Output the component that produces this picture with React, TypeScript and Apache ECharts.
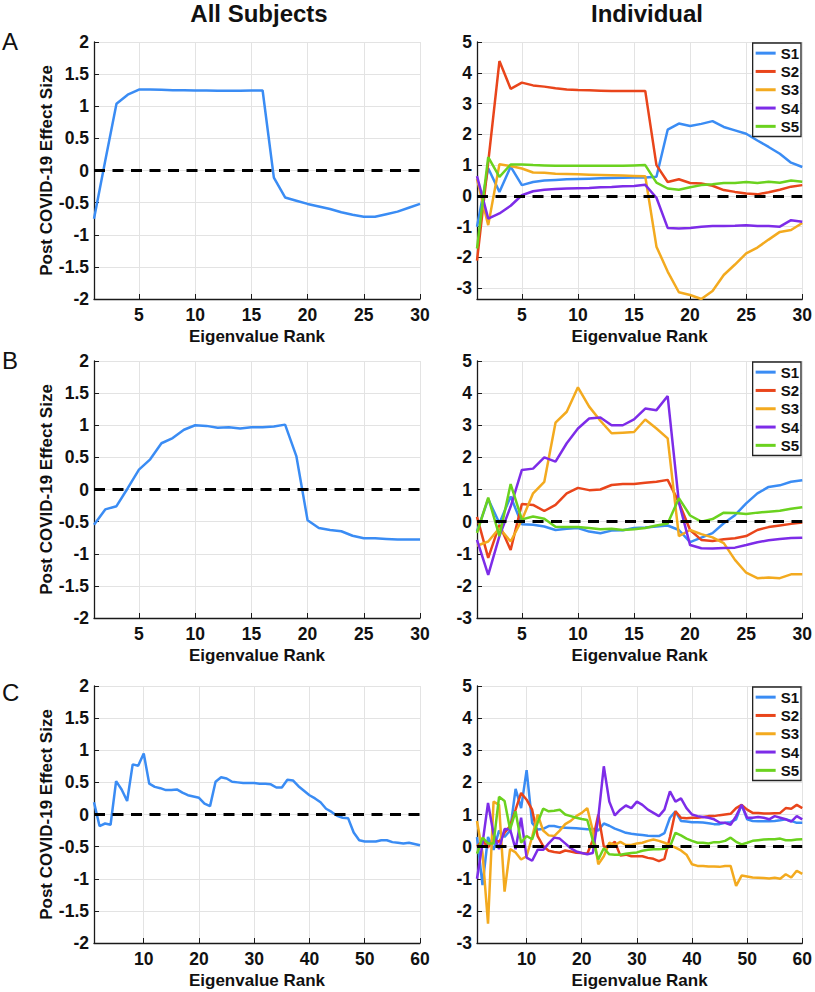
import React, { useEffect, useRef } from "react";
import * as echarts from "echarts";

const FONT = "'Liberation Sans', Arial, Helvetica, sans-serif";

// ---------- categories / ticks ----------
const ranks30 = Array.from({ length: 30 }, (_, i) => i + 1);
const ranks60 = Array.from({ length: 60 }, (_, i) => i + 1);
const xTicks30 = [5, 10, 15, 20, 25, 30];
const xTicks60 = [10, 20, 30, 40, 50, 60];
const yTicksAll = [-2, -1.5, -1, -0.5, 0, 0.5, 1, 1.5, 2];
const yTicksInd = [-3, -2, -1, 0, 1, 2, 3, 4, 5];

const subjectNames = ["S1", "S2", "S3", "S4", "S5"];
const subjectColors = ["#3a8cf4", "#e9451b", "#f3aa1f", "#7d2ce8", "#6bd21f"];
const allColor = "#3a8cf4";

// ---------- A : all subjects ----------
const allA = [-0.75, 0.15, 1.04, 1.18, 1.26, 1.26, 1.255, 1.25, 1.25, 1.245, 1.245, 1.24, 1.24, 1.24, 1.245, 1.245,
  -0.11, -0.42, -0.47, -0.52, -0.56, -0.6, -0.65, -0.69, -0.72, -0.72, -0.68, -0.64, -0.58, -0.52];
// ---------- A : individual ----------
const indA_S1 = [-1.0, 0.9, 0.13, 0.95, 0.35, 0.45, 0.5, 0.52, 0.54, 0.55, 0.56, 0.57, 0.58, 0.59, 0.6, 0.6,
  0.62, 2.15, 2.35, 2.27, 2.34, 2.43, 2.24, 2.13, 2.02, 1.8, 1.59, 1.37, 1.08, 0.94];
const indA_S2 = [-2.1, 1.1, 4.38, 3.48, 3.68, 3.59, 3.55, 3.5, 3.46, 3.44, 3.43, 3.42, 3.41, 3.41, 3.41, 3.41,
  1.0, 0.45, 0.54, 0.42, 0.4, 0.33, 0.19, 0.13, 0.08, 0.05, 0.12, 0.2, 0.3, 0.35];
const indA_S3 = [0.55, -0.95, 1.03, 0.97, 0.89, 0.76, 0.75, 0.72, 0.71, 0.7, 0.69, 0.68, 0.67, 0.66, 0.65, 0.64,
  -1.65, -2.46, -3.13, -3.22, -3.35, -3.09, -2.57, -2.23, -1.87, -1.68, -1.42, -1.17, -1.11, -0.88];
const indA_S4 = [0.64, -0.74, -0.57, -0.32, 0.02, 0.15, 0.2, 0.22, 0.24, 0.25, 0.26, 0.28, 0.29, 0.31, 0.32, 0.36,
  -0.06, -1.04, -1.06, -1.04, -1.0, -0.98, -0.98, -0.97, -0.95, -0.98, -0.98, -1.0, -0.79, -0.84];
const indA_S5 = [-1.71, 1.26, 0.62, 1.02, 1.02, 1.0, 0.99, 0.98, 0.98, 0.98, 0.98, 0.98, 0.98, 0.98, 0.99, 1.0,
  0.43, 0.24, 0.2, 0.28, 0.35, 0.38, 0.42, 0.42, 0.45, 0.42, 0.46, 0.43, 0.5, 0.46];

// ---------- B : all subjects ----------
const allB = [-0.55, -0.31, -0.26, 0.02, 0.31, 0.47, 0.72, 0.8, 0.93, 1.0, 0.99, 0.96, 0.97, 0.95, 0.97, 0.97,
  0.98, 1.01, 0.52, -0.48, -0.6, -0.63, -0.65, -0.72, -0.76, -0.76, -0.77, -0.78, -0.78, -0.78];
// ---------- B : individual ----------
const indB_S1 = [-0.3, 0.7, -0.05, 0.78, -0.08, -0.1, -0.15, -0.26, -0.22, -0.2, -0.31, -0.36, -0.28, -0.27, -0.2,
  -0.18, -0.15, -0.12, -0.26, -0.64, -0.5, -0.36, -0.05, 0.2, 0.57, 0.88, 1.08, 1.13, 1.24, 1.29];
const indB_S2 = [0.15, -1.13, -0.1, -0.88, 0.55, 0.52, 0.33, 0.52, 0.88, 1.05, 0.98, 1.0, 1.14, 1.17, 1.17, 1.21,
  1.24, 1.3, 0.6, -0.26, -0.57, -0.6, -0.55, -0.52, -0.45, -0.26, -0.17, -0.12, -0.07, -0.03];
const indB_S3 = [-0.75, -0.62, -0.2, -0.62, 0.05, 0.88, 1.24, 3.08, 3.42, 4.18, 3.58, 3.14, 2.75, 2.77, 2.79, 3.18,
  2.9, 2.59, -0.45, -0.26, -0.39, -0.49, -0.67, -1.19, -1.59, -1.76, -1.74, -1.76, -1.64, -1.64];
const indB_S4 = [-0.57, -1.66, -0.45, 0.47, 1.61, 1.65, 2.0, 1.87, 2.44, 2.9, 3.21, 3.24, 3.0, 3.0, 3.18, 3.52,
  3.47, 3.91, 0.6, -0.73, -0.83, -0.84, -0.82, -0.81, -0.73, -0.64, -0.58, -0.54, -0.51, -0.5];
const indB_S5 = [-0.35, 0.75, -0.45, 1.17, 0.07, 0.16, 0.09, -0.16, -0.17, -0.17, -0.2, -0.24, -0.22, -0.26, -0.24,
  -0.2, -0.12, -0.06, 0.73, 0.19, 0.0, 0.08, 0.28, 0.27, 0.24, 0.28, 0.31, 0.34, 0.4, 0.45];

// ---------- C : all subjects ----------
const allC = [0.19, -0.18, -0.14, -0.16, 0.52, 0.39, 0.21, 0.78, 0.76, 0.95,
  0.48, 0.43, 0.41, 0.38, 0.38, 0.39, 0.34, 0.3, 0.28, 0.26,
  0.17, 0.13, 0.51, 0.58, 0.56, 0.51, 0.5, 0.49, 0.49, 0.49,
  0.48, 0.48, 0.47, 0.42, 0.42, 0.54, 0.53, 0.44, 0.37, 0.3,
  0.25, 0.19, 0.09, 0.04, -0.02, -0.05, -0.06, -0.28, -0.4, -0.42,
  -0.42, -0.42, -0.4, -0.4, -0.43, -0.44, -0.45, -0.44, -0.46, -0.48];
// ---------- C : individual ----------
const indC_S1 = [0.3, -1.2, 0.3, -0.1, 0.5, 0.3, 0.5, 1.8, 1.2, 2.38,
  0.74, 0.53, 0.55, 0.64, 0.64, 0.6, 0.59, 0.58, 0.57, 0.56,
  0.54, 0.55, 0.5, 0.72, 0.65, 0.56, 0.5, 0.43, 0.4, 0.38,
  0.36, 0.34, 0.33, 0.33, 0.42, 0.9, 1.1, 0.8, 0.78, 0.76,
  0.76, 0.75, 0.73, 0.7, 0.7, 0.74, 0.76, 0.85, 1.3, 0.85,
  0.8, 0.79, 0.79, 0.79, 0.8, 0.82, 0.85, 0.8, 0.74, 0.74];
const indC_S2 = [0.0, 0.2, -0.03, 0.22, 0.15, 0.43, 0.64, 1.15, 1.67, 1.46,
  1.15, 0.33, 0.02, -0.13, -0.17, -0.19, -0.12, -0.15, -0.19, -0.2,
  -0.22, 0.2, 1.0, 0.0, 0.0, 0.15, -0.28, -0.25, -0.3, -0.3,
  -0.3, -0.35, -0.38, -0.45, -0.38, 0.3, 1.1, 0.9, 0.88, 0.9,
  0.9, 0.92, 0.95, 0.95, 0.98, 1.0, 1.02, 1.2, 1.3, 1.15,
  1.05, 1.05, 1.03, 1.03, 1.04, 1.05, 1.2, 1.18, 1.3, 1.2];
const indC_S3 = [0.8, -0.2, -2.4, 1.4, 1.3, -1.4, -0.08, -0.18, -0.4, -0.3,
  0.3, 1.0, 0.5, 0.35, 0.33, 0.5, 0.7, 0.8, 0.95, 1.05,
  1.2, 0.5, -0.55, -0.3, 0.12, 0.05, 0.15, 0.05, 0.05, 0.1,
  0.12, 0.18, 0.22, 0.18, 0.12, 0.05, -0.03, -0.12, -0.25, -0.55,
  -0.6, -0.6, -0.62, -0.62, -0.63, -0.6, -0.6, -1.22, -0.9, -0.93,
  -0.96, -0.97, -0.98, -0.99, -0.97, -1.0, -0.86, -0.96, -0.75, -0.85];
const indC_S4 = [-1.0, 0.1, 1.36, 0.4, -0.08, 0.55, 0.54, -0.08, 0.9, -0.34,
  -0.44, -0.1, -0.1, 0.1, 0.28, 0.25, 0.1, -0.05, -0.15, -0.2,
  -0.24, -0.2, 0.9, 2.5, 1.4, 0.97, 1.15, 1.28, 1.2, 1.4,
  1.3, 1.15, 1.05, 0.95, 1.15, 1.72, 1.4, 1.5, 1.2, 1.0,
  0.95, 0.92, 0.9, 0.85, 0.75, 0.74, 0.68, 0.95, 1.3, 0.9,
  0.9, 0.92, 0.9, 0.85, 0.95, 0.9, 0.85, 0.78, 0.95, 0.85];
const indC_S5 = [-0.22, 0.28, 0.1, 0.1, 1.55, 1.42, 0.54, 1.1, 0.12, 0.33,
  0.23, 0.75, 1.18, 1.1, 1.12, 1.15, 1.0, 0.95, 0.9, 0.86,
  0.83, 0.2, -0.4, -0.05, -0.24, -0.25, -0.25, -0.22, -0.2, -0.18,
  -0.13, -0.1, -0.08, -0.08, -0.07, 0.0, 0.43, 0.35, 0.25, 0.18,
  0.12, 0.12, 0.1, 0.14, 0.14, 0.18, 0.28, 0.15, 0.07, 0.12,
  0.18, 0.2, 0.22, 0.23, 0.23, 0.25, 0.2, 0.2, 0.22, 0.23];

const rowTops = [42, 361, 686];
const gridH = 257;

type Panel = {
  row: number;
  col: number;
  ranks: number[];
  xTicks: number[];
  yMin: number;
  yMax: number;
  yTicks: number[];
  lines: { name: string; data: number[]; color: string }[];
};

const indLines = (arrs: number[][]) =>
  arrs.map((d, k) => ({ name: subjectNames[k], data: d, color: subjectColors[k] }));

const panels: Panel[] = [
  { row: 0, col: 0, ranks: ranks30, xTicks: xTicks30, yMin: -2, yMax: 2, yTicks: yTicksAll,
    lines: [{ name: "All", data: allA, color: allColor }] },
  { row: 0, col: 1, ranks: ranks30, xTicks: xTicks30, yMin: -3.35, yMax: 5, yTicks: yTicksInd,
    lines: indLines([indA_S1, indA_S2, indA_S3, indA_S4, indA_S5]) },
  { row: 1, col: 0, ranks: ranks30, xTicks: xTicks30, yMin: -2, yMax: 2, yTicks: yTicksAll,
    lines: [{ name: "All", data: allB, color: allColor }] },
  { row: 1, col: 1, ranks: ranks30, xTicks: xTicks30, yMin: -3, yMax: 5, yTicks: yTicksInd,
    lines: indLines([indB_S1, indB_S2, indB_S3, indB_S4, indB_S5]) },
  { row: 2, col: 0, ranks: ranks60, xTicks: xTicks60, yMin: -2, yMax: 2, yTicks: yTicksAll,
    lines: [{ name: "All", data: allC, color: allColor }] },
  { row: 2, col: 1, ranks: ranks60, xTicks: xTicks60, yMin: -3, yMax: 5, yTicks: yTicksInd,
    lines: indLines([indC_S1, indC_S2, indC_S3, indC_S4, indC_S5]) },
];

function buildOption() {
  const grid: any[] = [];
  const xAxis: any[] = [];
  const yAxis: any[] = [];
  const series: any[] = [];
  const legend: any[] = [];

  const labelStyle = { color: "#111", fontWeight: "bold", fontSize: 17.5, fontFamily: FONT };
  const nameStyle = { color: "#111", fontWeight: "bold", fontSize: 17, fontFamily: FONT };
  const splitStyle = { color: "#e3e3e3", width: 1 };

  panels.forEach((p, i) => {
    grid.push({
      left: p.col === 0 ? 94 : 477,
      width: p.col === 0 ? 326 : 327,
      top: rowTops[p.row],
      height: gridH,
      containLabel: false,
    });
    xAxis.push({
      type: "value",
      gridIndex: i,
      min: 1,
      max: p.ranks[p.ranks.length - 1],
      axisLine: { show: true, onZero: false, lineStyle: { color: "#1a1a1a", width: 1.3 } },
      axisTick: { show: true, inside: true, length: 5, customValues: p.xTicks, lineStyle: { color: "#1a1a1a" } },
      axisLabel: { ...labelStyle, customValues: p.xTicks, margin: 7 },
      splitLine: { show: true, lineStyle: splitStyle },
      name: "Eigenvalue Rank",
      nameLocation: "middle",
      nameGap: 29,
      nameTextStyle: nameStyle,
    });
    yAxis.push({
      type: "value",
      gridIndex: i,
      min: p.yMin,
      max: p.yMax,
      axisLine: { show: true, onZero: false, lineStyle: { color: "#1a1a1a", width: 1.3 } },
      axisTick: { show: true, inside: true, length: 5, customValues: p.yTicks, lineStyle: { color: "#1a1a1a" } },
      axisLabel: { ...labelStyle, customValues: p.yTicks, margin: 5 },
      splitLine: { show: true, lineStyle: splitStyle },
      name: p.col === 0 ? "Post COVID-19 Effect Size" : "",
      nameLocation: "middle",
      nameGap: 38,
      nameTextStyle: nameStyle,
    });
    p.lines.forEach((ln) => {
      series.push({
        type: "line",
        name: ln.name,
        xAxisIndex: i,
        yAxisIndex: i,
        data: p.ranks.map((r, k) => [r, ln.data[k]]),
        showSymbol: false,
        symbol: "none",
        lineStyle: { width: 2.5, color: ln.color },
        itemStyle: { color: ln.color },
        z: 2,
      });
    });
    // dashed zero reference line
    series.push({
      type: "line",
      name: "zero",
      xAxisIndex: i,
      yAxisIndex: i,
      data: [],
      z: 5,
      markLine: {
        silent: true,
        symbol: ["none", "none"],
        label: { show: false },
        lineStyle: { color: "#000", type: [11, 7.5], width: 2.8 },
        emphasis: { disabled: true },
        data: [{ yAxis: 0 }],
      },
    });
    if (p.col === 1) {
      legend.push({
        orient: "vertical",
        right: 14,
        top: rowTops[p.row] + 1,
        data: subjectNames,
        icon: "rect",
        itemWidth: 20,
        itemHeight: 3,
        itemGap: 2,
        selectedMode: false,
        textStyle: { color: "#111", fontWeight: "bold", fontSize: 15, fontFamily: FONT, lineHeight: 16.3 },
        borderColor: "#222",
        borderWidth: 1.3,
        backgroundColor: "#fff",
        padding: [2, 2, 2, 3],
      });
    }
  });

  const graphic: any[] = [
    { type: "text", x: 259, y: 13, style: { text: "All Subjects", fill: "#111", font: `bold 24px ${FONT}`, align: "center", verticalAlign: "middle" } },
    { type: "text", x: 647, y: 13, style: { text: "Individual", fill: "#111", font: `bold 24px ${FONT}`, align: "center", verticalAlign: "middle" } },
    { type: "text", x: 2, y: 41, style: { text: "A", fill: "#111", font: `24px ${FONT}`, align: "left", verticalAlign: "middle" } },
    { type: "text", x: 2, y: 360, style: { text: "B", fill: "#111", font: `24px ${FONT}`, align: "left", verticalAlign: "middle" } },
    { type: "text", x: 2, y: 692, style: { text: "C", fill: "#111", font: `24px ${FONT}`, align: "left", verticalAlign: "middle" } },
  ];

  return {
    animation: false,
    backgroundColor: "#fff",
    textStyle: { fontFamily: FONT },
    grid,
    xAxis,
    yAxis,
    series,
    legend,
    graphic,
  };
}

export default function App() {
  const ref = useRef<HTMLDivElement>(null);
  useEffect(() => {
    if (!ref.current) return;
    const chart = echarts.init(ref.current, undefined, { renderer: "svg" });
    chart.setOption(buildOption() as any);
    return () => chart.dispose();
  }, []);
  return (
    <div
      ref={ref}
      style={{ position: "absolute", left: 0, top: 0, width: 815, height: 992, background: "#fff" }}
    />
  );
}
